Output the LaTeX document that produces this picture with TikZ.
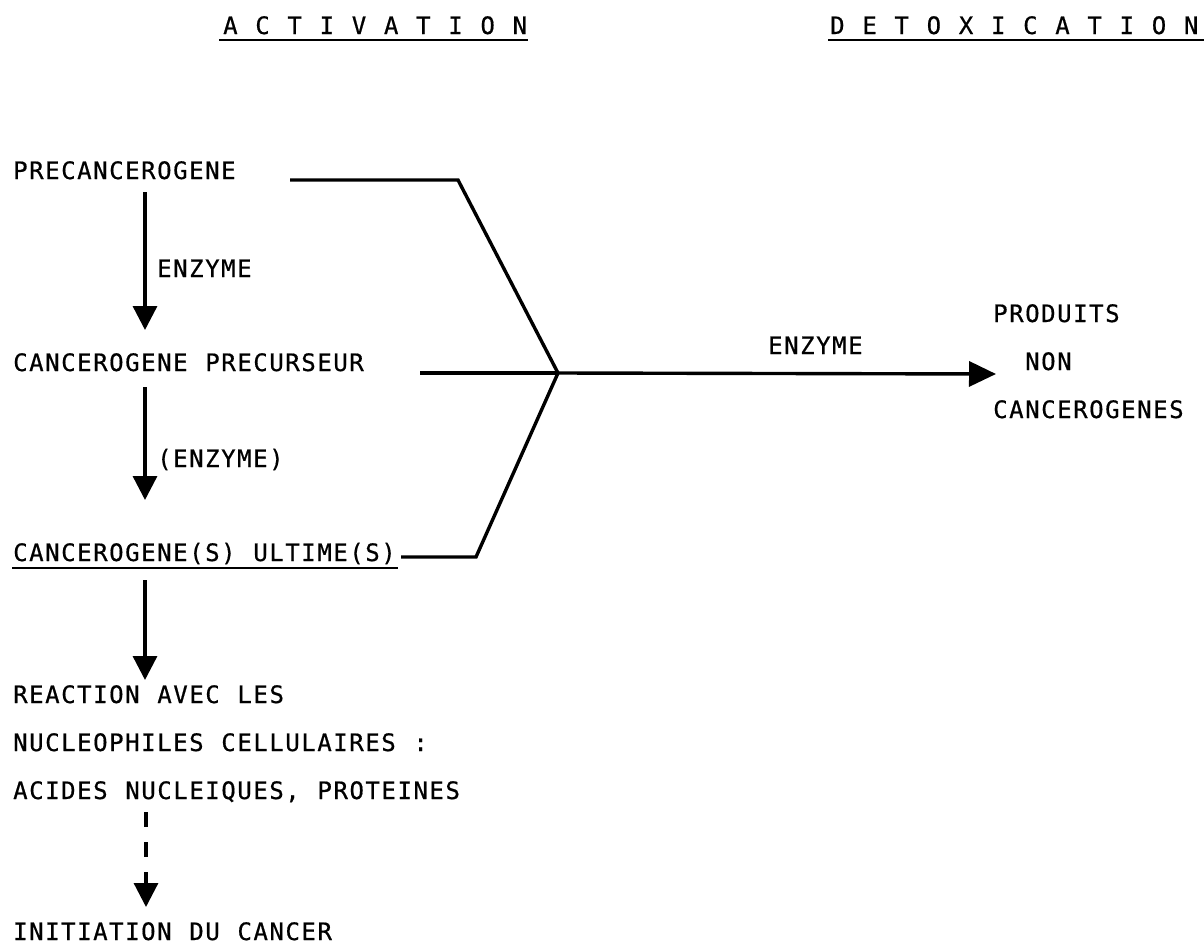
\documentclass[tikz,border=0pt]{standalone}
\usepackage{fontspec}
\newfontfamily\prtfont[LetterSpace=6.46,WordSpace=1.107,FakeBold=0.6]{DejaVu Sans Mono}
\usetikzlibrary{arrows.meta}
\begin{document}
\begin{tikzpicture}[x=1pt,y=-1pt,
  txt/.style={anchor=base west, inner sep=0pt, font={\prtfont\fontsize{24pt}{28pt}\selectfont}},
  conn/.style={line width=3.4pt, line cap=butt, line join=miter},
  thinline/.style={line width=2pt},
  tip/.style={-{Triangle[length=24pt,width=24pt]}},
  dashline/.style={line width=3.2pt, dash pattern=on 15pt off 15pt}]
\useasboundingbox (0,0) rectangle (1204,945);
\fill[white] (0,0) rectangle (1204,945);

% headers
\node[txt] (act) at (223,34) {A C T I V A T I O N};
\node[txt] (det) at (830,34) {D E T O X I C A T I O N};
\draw[thinline] (219,40) -- (528,40);
\draw[thinline] (828,40) -- (1204,40);

% activation chain
\node[txt] (pre) at (13,179) {PRECANCEROGENE};
\node[txt] (prec) at (13,371) {CANCEROGENE PRECURSEUR};
\node[txt] (ult) at (13,561) {CANCEROGENE(S) ULTIME(S)};
\draw[thinline] (12,568) -- (398,568);
\node[txt] (e1) at (157,277) {ENZYME};
\node[txt] (e2) at (157,467) {(ENZYME)};

\coordinate (a1s) at (145,192);
\coordinate (a1e) at (145,330);
\coordinate (a2s) at (145,387);
\coordinate (a2e) at (145,500);
\coordinate (a3s) at (145,580);
\coordinate (a3e) at (145,680);
\draw[conn,tip] (a1s) -- (a1e);
\draw[conn,tip] (a2s) -- (a2e);
\draw[conn,tip] (a3s) -- (a3e);

\node[txt] (r1) at (13,703) {REACTION AVEC LES};
\node[txt] (r2) at (13,751) {NUCLEOPHILES CELLULAIRES :};
\node[txt] (r3) at (13,799) {ACIDES NUCLEIQUES, PROTEINES};
\coordinate (d1) at (146,812);
\coordinate (d2) at (146,907);
\draw[dashline,tip] (d1) -- (d2);
\node[txt] (init) at (13,940) {INITIATION DU CANCER};

% detoxication branches
\coordinate (p0) at (290,180);
\coordinate (p1) at (458,180);
\coordinate (m0) at (420,373);
\coordinate (j) at (558,373);
\coordinate (u0) at (401,557);
\coordinate (u1) at (476,557);
\coordinate (tipr) at (996,374);
\draw[conn] (p0) -- (p1) -- (j);
\draw[conn] (u0) -- (u1) -- (j);
\draw[conn] (m0) -- (j);
\draw[conn,-{Triangle[length=27pt,width=25pt]}] (j) -- (tipr);
\node[txt] (e3) at (768,354) {ENZYME};

\node[txt] (prod) at (993,322) {PRODUITS};
\node[txt] (non) at (1025,370) {NON};
\node[txt] (canc) at (993,418) {CANCEROGENES};
\end{tikzpicture}
\end{document}
